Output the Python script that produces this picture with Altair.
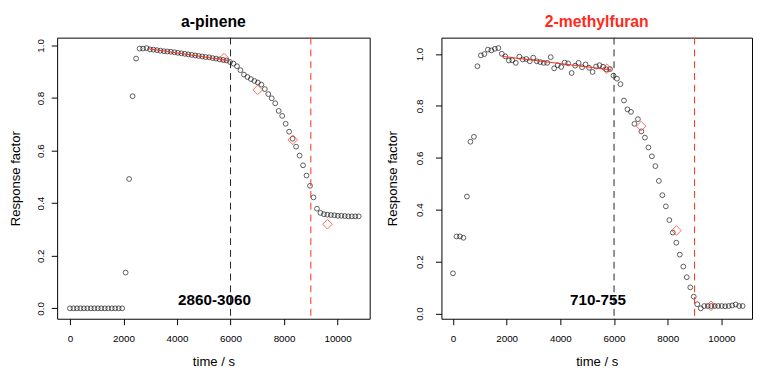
import altair as alt
import pandas as pd

# ---------------- data ----------------
time_s = [0, 130, 260, 390, 520, 650, 780, 910, 1040, 1170, 1300, 1430, 1560, 1690,
          1820, 1950, 2080, 2210, 2340, 2470, 2600, 2730, 2860, 2990, 3120, 3250,
          3380, 3510, 3640, 3770, 3900, 4030, 4160, 4290, 4420, 4550, 4680, 4810,
          4940, 5070, 5200, 5330, 5460, 5590, 5720, 5850, 5980, 6110, 6240, 6370,
          6500, 6630, 6760, 6890, 7020, 7150, 7280, 7410, 7540, 7670, 7800, 7930,
          8060, 8190, 8320, 8450, 8580, 8710, 8840, 8970, 9100, 9230, 9360, 9490,
          9620, 9750, 9880, 10010, 10140, 10270, 10400, 10530, 10660, 10790]

apinene_rf = [0.0, 0.0, 0.0, 0.0, 0.0, 0.0, 0.0, 0.0, 0.0, 0.0, 0.0, 0.0, 0.0, 0.0,
              0.0, 0.0, 0.136, 0.492, 0.807, 0.950, 0.988, 0.988, 0.990, 0.985,
              0.984, 0.982, 0.980, 0.978, 0.977, 0.976, 0.974, 0.972, 0.970, 0.968,
              0.966, 0.964, 0.962, 0.960, 0.958, 0.956, 0.955, 0.952, 0.950, 0.947,
              0.945, 0.943, 0.937, 0.931, 0.921, 0.906, 0.889, 0.880, 0.872, 0.865,
              0.859, 0.851, 0.834, 0.815, 0.799, 0.780, 0.751, 0.732, 0.702, 0.672,
              0.645, 0.615, 0.581, 0.544, 0.505, 0.466, 0.422, 0.379, 0.363, 0.358,
              0.356, 0.355, 0.354, 0.352, 0.352, 0.351, 0.350, 0.350, 0.350, 0.350]

methylfuran_rf = [0.155, 0.297, 0.297, 0.292, 0.451, 0.662, 0.681, 0.953, 0.995,
                  1.000, 1.017, 1.014, 1.020, 1.023, 1.001, 0.991, 0.975, 0.976,
                  0.966, 0.990, 0.979, 0.981, 0.972, 0.986, 0.972, 0.969, 0.966,
                  0.966, 0.988, 0.945, 0.957, 0.950, 0.967, 0.964, 0.927, 0.955,
                  0.966, 0.949, 0.960, 0.947, 0.931, 0.952, 0.957, 0.951, 0.941,
                  0.942, 0.917, 0.905, 0.884, 0.821, 0.787, 0.777, 0.731, 0.749,
                  0.702, 0.678, 0.640, 0.606, 0.568, 0.511, 0.456, 0.413, 0.360,
                  0.312, 0.273, 0.227, 0.181, 0.140, 0.101, 0.065, 0.036, 0.020,
                  0.029, 0.029, 0.029, 0.029, 0.029, 0.029, 0.028, 0.029, 0.031,
                  0.035, 0.029, 0.029]

apinene_fit_t = [2960, 5900]
apinene_fit_rf = [0.987, 0.943]
methylfuran_fit_t = [1830, 5880]
methylfuran_fit_rf = [0.991, 0.939]

apinene_diamond_t = [5755, 7015, 8325, 9620]
apinene_diamond_rf = [0.952, 0.831, 0.641, 0.320]
methylfuran_diamond_t = [5730, 7010, 8325, 9610]
methylfuran_diamond_rf = [0.943, 0.722, 0.320, 0.030]

vline_t = [6000, 9000]
vline_color = ["#222222", "#ff2a1a"]

x_ticks = [0, 2000, 4000, 6000, 8000, 10000]
y_ticks = [0.0, 0.2, 0.4, 0.6, 0.8, 1.0]

label_t = 5400


def panel(title, title_color, rf, fit_t, fit_rf, dia_t, dia_rf, label,
          xdom, ydom, width, height, lab_pad, tit_pad):
    xs = alt.Scale(domain=xdom, nice=False, zero=False)
    ys = alt.Scale(domain=ydom, nice=False, zero=False)
    xaxis = alt.Axis(title="time / s", values=x_ticks, format="d",
                     labelPadding=9, titlePadding=12)
    yaxis = alt.Axis(title="Response factor", values=y_ticks, format=".1f",
                     labelAngle=-90, labelAlign="center", labelBaseline="bottom",
                     labelPadding=lab_pad, titlePadding=tit_pad)

    X = alt.X("t:Q", scale=xs, axis=xaxis, title="time / s")
    Y = alt.Y("rf:Q", scale=ys, axis=yaxis, title="Response factor")

    pts = pd.DataFrame({"t": time_s, "rf": rf})
    fit = pd.DataFrame({"t": fit_t, "rf": fit_rf})
    dia = pd.DataFrame({"t": dia_t, "rf": dia_rf})
    vl = pd.DataFrame({"t": vline_t, "c": vline_color})
    lab = pd.DataFrame({"t": [label_t], "txt": [label]})

    points = alt.Chart(pts).mark_point(
        shape="circle", filled=False, color="black", size=24, strokeWidth=0.9
    ).encode(x=X, y=Y)

    rules = alt.Chart(vl).mark_rule(strokeDash=[7, 5], strokeWidth=1).encode(
        x=X, color=alt.Color("c:N", scale=None))

    fitline = alt.Chart(fit).mark_line(color="#ff2a1a", strokeWidth=1).encode(
        x=X, y=Y)

    diamonds = alt.Chart(dia).mark_point(
        shape="diamond", filled=False, color="#ff2a1a", size=95, strokeWidth=1
    ).encode(x=X, y=Y)

    text = alt.Chart(lab).mark_text(
        fontWeight="bold", fontSize=15.5, font="Liberation Sans",
        baseline="middle", align="center", color="black"
    ).encode(x=X, y=alt.value(267), text="txt:N")

    return alt.layer(points, rules, fitline, diamonds, text).properties(
        width=width, height=height,
        title=alt.Title(title, color=title_color))


left = panel("a-pinene", "black", apinene_rf, apinene_fit_t, apinene_fit_rf,
             apinene_diamond_t, apinene_diamond_rf, "2860-3060",
             [-480, 11200], [-0.0396, 1.0296], 318, 286, 5.5, 13.7)
right = panel("2-methylfuran", "#ff2a1a", methylfuran_rf, methylfuran_fit_t,
              methylfuran_fit_rf, methylfuran_diamond_t, methylfuran_diamond_rf,
              "710-755", [-430, 11140], [-0.0201, 1.0631], 316, 286, 11, 16)

chart = alt.hconcat(left, right, spacing=14).properties(
    padding={"left": 0, "top": 3, "right": 0, "bottom": 0}
).configure_view(
    stroke="black", strokeWidth=1
).configure_axis(
    grid=False, domain=False, tickColor="black", tickSize=6, tickWidth=1,
    labelColor="black", labelFont="Liberation Sans", labelFontSize=10,
    titleFont="Liberation Sans", titleFontSize=13.3, titleFontWeight="normal",
    titleColor="black"
).configure_title(
    font="Liberation Sans", fontSize=16, fontWeight="bold", offset=7,
    frame="group", anchor="middle"
)

chart.save("out.html", embed_options={"renderer": "svg", "actions": False})
